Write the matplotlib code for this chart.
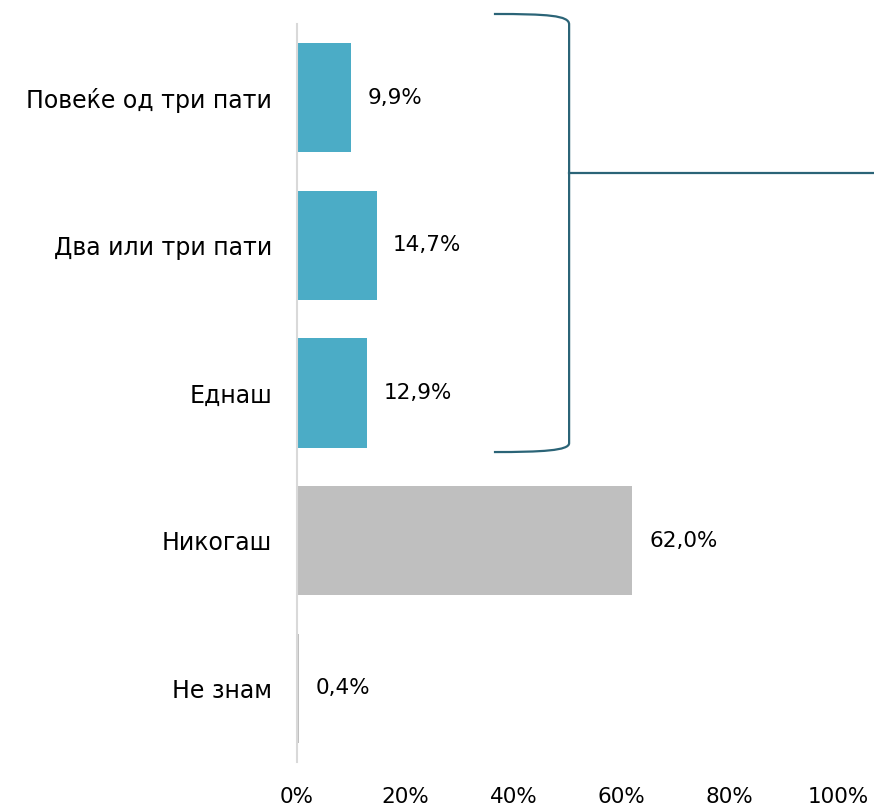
#!/usr/bin/env python3

import matplotlib
matplotlib.use("Agg")
from matplotlib import pyplot as plt
from matplotlib.path import Path
from matplotlib.patches import PathPatch

categories = ["Повеќе од три пати", "Два или три пати", "Еднаш", "Никогаш", "Не знам"]
values = [9.9, 14.7, 12.9, 62.0, 0.4]
colors = ["#4BACC6", "#4BACC6", "#4BACC6", "#BFBFBF", "#BFBFBF"]
xticks = [0, 20, 40, 60, 80, 100]
xtick_labels = ["0%", "20%", "40%", "60%", "80%", "100%"]

plt.rcParams['font.family'] = ['DejaVu Sans']

fig = plt.figure(figsize=(8.74, 8.09), dpi=100)
ax = fig.add_axes([0.3398, 0.0581, 0.619, 0.9122])

y = list(range(len(categories)))
ax.barh(y, values, height=0.74, color=colors)
ax.set_ylim(len(categories) - 0.5, -0.5)
ax.set_xlim(0, 100)

for yi, v in zip(y, values):
    ax.annotate(("%.1f%%" % v).replace('.', ','), xy=(v, yi), xytext=(12, 0),
                textcoords='offset points', va='center', ha='left', fontsize=15.5)

ax.set_yticks(y)
ax.set_yticklabels(categories, fontsize=17)
ax.set_xticks(xticks)
ax.set_xticklabels(xtick_labels, fontsize=15.5)
ax.tick_params(axis='y', length=0, pad=18)
ax.tick_params(axis='x', length=0, pad=18)

for s in ['top', 'right', 'bottom']:
    ax.spines[s].set_visible(False)
ax.spines['left'].set_color('#D9D9D9')
ax.spines['left'].set_linewidth(1.5)

# bracket around the first three answers
bc = '#2B6477'
x0, x1 = 36.4, 50.3
ytop, ybot = -0.568, 2.40
verts = [(x0, ytop), (x1 - 4, ytop), (x1, ytop + 0.01), (x1, ytop + 0.07),
         (x1, ybot - 0.06),
         (x1, ybot - 0.01), (x1 - 5, ybot), (x0, ybot)]
codes = [Path.MOVETO, Path.CURVE4, Path.CURVE4, Path.CURVE4,
         Path.LINETO,
         Path.CURVE4, Path.CURVE4, Path.CURVE4]
ax.add_patch(PathPatch(Path(verts, codes), fill=False, edgecolor=bc, lw=1.6, clip_on=False))
ax.plot([x1, 106.7], [0.51, 0.51], color=bc, lw=1.6, clip_on=False)

fig.savefig('out.png', dpi=100)
